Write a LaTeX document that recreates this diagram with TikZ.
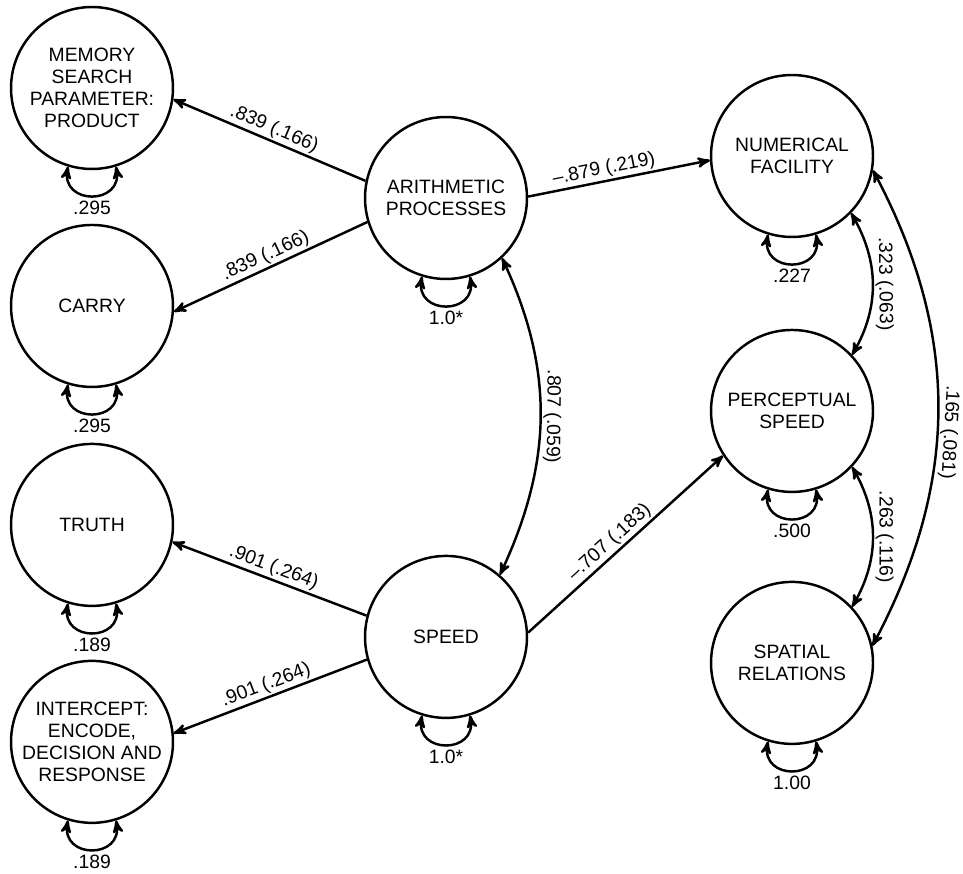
\documentclass[tikz,border=0pt]{standalone}
\usepackage{fontspec}
\setmainfont{Liberation Sans}
\usetikzlibrary{arrows, positioning}

\begin{document}
\begin{tikzpicture}[x=0.02cm, y=0.02cm, >=stealth', line width=1.4pt,
 main node/.style={circle, draw, minimum size=3.24cm, inner sep=0pt, align=center,
  font=\fontsize{11}{12.5}\selectfont},
 coef/.style={font=\fontsize{11}{12}\selectfont, inner sep=1pt},
 resid/.style={<->, out=-100, in=-80, looseness=2.1}]
  \useasboundingbox (0,0) rectangle (963,-874);

  % latent factors and tasks
  \node[main node] (MEM) at (92,-88) {MEMORY\\SEARCH\\PARAMETER:\\PRODUCT};
  \node[main node, node distance=4.36cm] (CAR) [below of=MEM] {CARRY};
  \node[main node, node distance=4.38cm] (TRU) [below of=CAR] {TRUTH};
  \node[main node, node distance=4.34cm] (INT) [below of=TRU] {INTERCEPT:\\ENCODE,\\DECISION AND\\RESPONSE};
  \node[main node] (ARI) at (446,-198) {ARITHMETIC\\PROCESSES};
  \node[main node, node distance=8.78cm] (SPD) [below of=ARI] {SPEED};
  \node[main node] (NUM) at (792,-156) {NUMERICAL\\FACILITY};
  \node[main node, node distance=5.1cm] (PER) [below of=NUM] {PERCEPTUAL\\SPEED};
  \node[main node, node distance=5.04cm] (SPA) [below of=PER] {SPATIAL\\RELATIONS};

  % loadings
  \foreach \s/\a/\t/\b/\w/\p in {ARI/168/MEM/-8/{.839 (.166)}/0.5,
    ARI/-163/CAR/-4/{.839 (.166)}/0.5, ARI/1/NUM/-177/{–.879 (.219)}/0.43,
    SPD/165/TRU/-12/{.901 (.264)}/0.5, SPD/-164/INT/6/{.901 (.264)}/0.5,
    SPD/3/PER/-147/{–.707 (.183)}/0.46} {
   \path[draw,->] (\s.\a) -- node[coef, sloped, above, pos=\p] {\w} (\t.\b);}

  % covariances
  \foreach \s/\a/\t/\b/\o/\i/\w/\p in {ARI/-47/SPD/49/-65/65/{.807 (.059)}/0.5,
    NUM/-44/PER/43/-60/60/{.323 (.063)}/0.5, PER/-43/SPA/43/-60/60/{.263 (.116)}/0.5,
    NUM/-10/SPA/12/-62/62/{.165 (.081)}/0.55} {
   \path[draw,<->] (\s.\a) to[out=\o, in=\i]
    node[coef, sloped, above, allow upside down, pos=\p] {\w} (\t.\b);}

  % residual variances
  \foreach \n/\v in {MEM/.295, CAR/.295, TRU/.189, INT/.189, ARI/1.0*, SPD/1.0*,
    NUM/.227, PER/.500, SPA/1.00} {
   \draw[resid] (\n.-107) to (\n.-73);
   \node[coef, below=0.55cm of \n] (v\n) {\v};}
\end{tikzpicture}
\end{document}
